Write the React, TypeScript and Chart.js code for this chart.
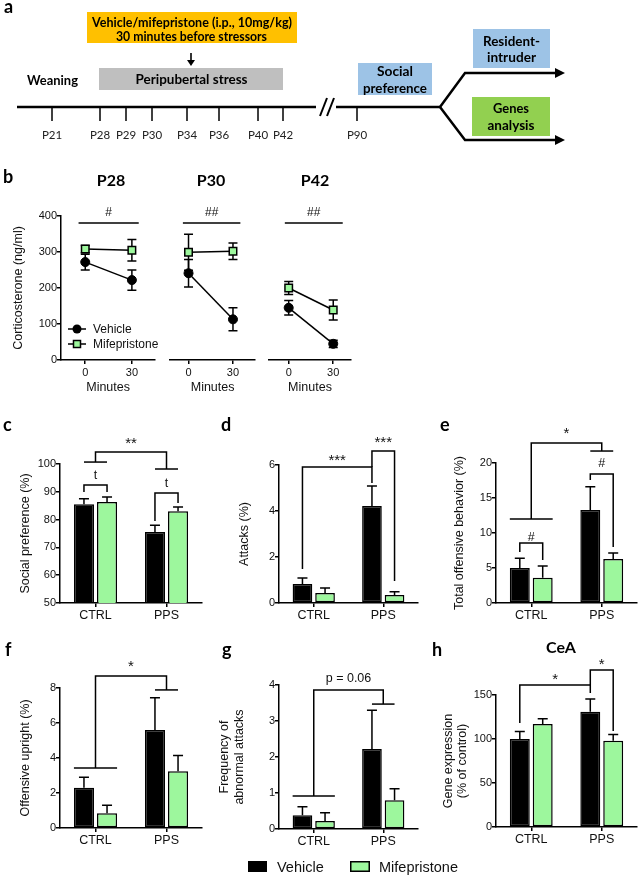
import React, { useEffect, useRef } from "react";
import { Chart, registerables } from "chart.js";

Chart.register(...registerables);

const SANS = "'Liberation Sans', Arial, sans-serif";
const HEAD = "Lato, 'Open Sans', sans-serif";
const INK = "#111";
const GREEN = "#9df79d";

// ---------------- data ----------------
const GROUPS = ["CTRL", "PPS"];
const SERIES = ["Vehicle", "Mifepristone"];
const MINUTES = [0, 30];
const AGES = ["P28", "P30", "P42"];
const AGE_SIG = ["#", "##", "##"];

const CORT_VEH = [[272, 222], [241, 113], [145, 45]];
const CORT_VEH_SEM = [[22, 28], [38, 32], [20, 10]];
const CORT_MIF = [[308, 305], [299, 302], [200, 139]];
const CORT_MIF_SEM = [[10, 30], [50, 23], [18, 28]];

const SOC_VEH = [85.5, 75.5];
const SOC_VEH_SEM = [2.0, 2.5];
const SOC_MIF = [86.3, 83.0];
const SOC_MIF_SEM = [1.8, 1.5];

const ATT_VEH = [0.83, 4.22];
const ATT_VEH_SEM = [0.26, 0.87];
const ATT_MIF = [0.43, 0.35];
const ATT_MIF_SEM = [0.22, 0.14];

const TOB_VEH = [5.0, 13.3];
const TOB_VEH_SEM = [1.4, 3.3];
const TOB_MIF = [3.6, 6.3];
const TOB_MIF_SEM = [1.7, 0.85];

const UPR_VEH = [2.3, 5.6];
const UPR_VEH_SEM = [0.6, 1.85];
const UPR_MIF = [0.85, 3.25];
const UPR_MIF_SEM = [0.45, 0.9];

const ABN_VEH = [0.38, 2.22];
const ABN_VEH_SEM = [0.24, 1.08];
const ABN_MIF = [0.22, 0.8];
const ABN_MIF_SEM = [0.23, 0.32];

const GEN_VEH = [100, 131];
const GEN_VEH_SEM = [8.5, 14.5];
const GEN_MIF = [117, 98];
const GEN_MIF_SEM = [6, 7];

const TIMELINE_LABELS = ["P21", "P28", "P29", "P30", "P34", "P36", "P40", "P42"];
const TIMELINE_X = [52, 100, 126, 152, 187, 219, 258, 283];

// ---------------- helpers ----------------
const axisStyle = () => ({
  grid: { display: true, drawOnChartArea: false, drawTicks: true, tickLength: 4, color: "#000", lineWidth: 1.5 },
  border: { display: true, color: "#000", width: 1.5 },
});

function drawLabel(ctx: any, text: string, x: number, centerY: number) {
  const star = text.includes("*");
  const size = star ? 15 : 12.5;
  ctx.font = `${size}px ${SANS}`;
  ctx.textAlign = "center";
  ctx.textBaseline = "alphabetic";
  ctx.fillStyle = INK;
  ctx.fillText(text, x, centerY + (star ? 0.57 : 0.36) * size);
}

function anchorX(chart: any, an: any) {
  const e0 = chart.getDatasetMeta(0).data[an.cat];
  const e1 = chart.getDatasetMeta(1).data[an.cat];
  if (an.ds === 0) return e0.x;
  if (an.ds === 1) return e1.x;
  return (e0.x + e1.x) / 2;
}

const bracketPlugin = (anns: any[]) => ({
  id: "brackets",
  afterDraw(chart: any) {
    const { ctx } = chart;
    const ys = chart.scales.y;
    ctx.save();
    ctx.strokeStyle = "#000";
    ctx.lineWidth = 1.5;
    ctx.lineJoin = "miter";
    for (const an of anns) {
      if (an.kind === "link") {
        const xa = anchorX(chart, an.a);
        const xb = anchorX(chart, an.b);
        const yt = ys.getPixelForValue(an.top);
        ctx.beginPath();
        ctx.moveTo(xa, ys.getPixelForValue(an.aEnd));
        ctx.lineTo(xa, yt);
        ctx.lineTo(xb, yt);
        ctx.lineTo(xb, ys.getPixelForValue(an.bEnd));
        ctx.stroke();
        drawLabel(ctx, an.label, (xa + xb) / 2, yt - an.gap);
      } else {
        const e0 = chart.getDatasetMeta(0).data[an.cat];
        const e1 = chart.getDatasetMeta(1).data[an.cat];
        const x0 = an.span === "edges" ? e0.x - e0.width / 2 : e0.x;
        const x1 = an.span === "edges" ? e1.x + e1.width / 2 : e1.x;
        const y = ys.getPixelForValue(an.y);
        ctx.beginPath();
        ctx.moveTo(x0, y);
        ctx.lineTo(x1, y);
        ctx.stroke();
      }
    }
    ctx.restore();
  },
});

const barErrorPlugin = (errs: number[][], cap = 5) => ({
  id: "barErr",
  afterDatasetsDraw(chart: any) {
    const { ctx } = chart;
    const ys = chart.scales.y;
    ctx.save();
    ctx.strokeStyle = "#000";
    ctx.lineWidth = 1.5;
    errs.forEach((arr, di) => {
      chart.getDatasetMeta(di).data.forEach((el: any, i: number) => {
        const v = chart.data.datasets[di].data[i];
        const yb = ys.getPixelForValue(v);
        const yt = ys.getPixelForValue(v + arr[i]);
        ctx.beginPath();
        ctx.moveTo(el.x, yb);
        ctx.lineTo(el.x, yt);
        ctx.moveTo(el.x - cap, yt);
        ctx.lineTo(el.x + cap, yt);
        ctx.stroke();
      });
    });
    ctx.restore();
  },
});

function barConfig(s: any) {
  const lh = 12.5 * s.titleLH;
  const ax = axisStyle();
  return {
    type: "bar",
    data: {
      labels: GROUPS,
      datasets: [
        { label: SERIES[0], data: s.veh, backgroundColor: "#000", borderColor: "#000", borderWidth: 1.5, borderSkipped: false, categoryPercentage: 0.65, barPercentage: 0.87 },
        { label: SERIES[1], data: s.mif, backgroundColor: GREEN, borderColor: "#000", borderWidth: 1.5, borderSkipped: false, categoryPercentage: 0.65, barPercentage: 0.87 },
      ],
    },
    options: {
      responsive: false,
      animation: false,
      devicePixelRatio: 1,
      events: [],
      layout: { padding: { left: 0, top: s.plot.t - s.box.y, right: s.box.x + s.box.w - s.plot.r, bottom: 0 } },
      plugins: { legend: { display: false }, tooltip: { enabled: false } },
      scales: {
        x: {
          offset: true,
          ...ax,
          grid: { ...ax.grid, offset: false },
          ticks: { font: { family: SANS, size: 12.5 }, color: INK, padding: 1, maxRotation: 0 },
          afterFit: (sc: any) => { sc.height = s.box.y + s.box.h - s.plot.b; },
        },
        y: {
          min: s.min,
          max: s.max,
          ...ax,
          ticks: { stepSize: s.step, font: { family: SANS, size: 11 }, color: INK, padding: 0 },
          title: {
            display: true,
            text: s.title,
            font: { family: SANS, size: 12.5, lineHeight: s.titleLH },
            color: INK,
            padding: { top: s.titleCenter - s.box.x - lh / 2, bottom: 0 },
          },
          afterFit: (sc: any) => { sc.width = s.plot.l - s.box.x; },
        },
      },
    },
    plugins: [barErrorPlugin([s.vehErr, s.mifErr]), bracketPlugin(s.anns)],
  };
}

const cortErrorPlugin = (errs: number[][], cap = 4.5) => ({
  id: "cortErr",
  beforeDatasetsDraw(chart: any) {
    const { ctx } = chart;
    const ys = chart.scales.y;
    ctx.save();
    ctx.strokeStyle = "#000";
    ctx.lineWidth = 1.5;
    errs.forEach((arr, di) => {
      chart.getDatasetMeta(di).data.forEach((el: any, i: number) => {
        const v = chart.data.datasets[di].data[i].y;
        const y1 = ys.getPixelForValue(v + arr[i]);
        const y0 = ys.getPixelForValue(v - arr[i]);
        ctx.beginPath();
        ctx.moveTo(el.x, y0);
        ctx.lineTo(el.x, y1);
        ctx.moveTo(el.x - cap, y1);
        ctx.lineTo(el.x + cap, y1);
        ctx.moveTo(el.x - cap, y0);
        ctx.lineTo(el.x + cap, y0);
        ctx.stroke();
      });
    });
    ctx.restore();
  },
});

const cortSigPlugin = (from: number, to: number, level: number, label: string) => ({
  id: "cortSig",
  afterDraw(chart: any) {
    const { ctx } = chart;
    const xs = chart.scales.x;
    const ys = chart.scales.y;
    const y = ys.getPixelForValue(level);
    const x0 = xs.getPixelForValue(from);
    const x1 = xs.getPixelForValue(to);
    ctx.save();
    ctx.strokeStyle = "#000";
    ctx.lineWidth = 1.5;
    ctx.beginPath();
    ctx.moveTo(x0, y);
    ctx.lineTo(x1, y);
    ctx.stroke();
    ctx.font = `12px ${SANS}`;
    ctx.textAlign = "center";
    ctx.textBaseline = "alphabetic";
    ctx.fillStyle = INK;
    ctx.fillText(label, (x0 + x1) / 2, y - 11 + 4.3);
    ctx.restore();
  },
});

const cortLegendPlugin = {
  id: "cortLegend",
  afterDraw(chart: any) {
    const { ctx, chartArea: ca } = chart;
    const rows = [ca.bottom - 31, ca.bottom - 16];
    ctx.save();
    rows.forEach((y, i) => {
      ctx.strokeStyle = "#000";
      ctx.lineWidth = 1.5;
      ctx.beginPath();
      ctx.moveTo(ca.left + 7, y);
      ctx.lineTo(ca.left + 25, y);
      ctx.stroke();
      if (i === 0) {
        ctx.fillStyle = "#000";
        ctx.beginPath();
        ctx.arc(ca.left + 16, y, 4.5, 0, Math.PI * 2);
        ctx.fill();
      } else {
        ctx.fillStyle = GREEN;
        ctx.fillRect(ca.left + 12.5, y - 3.5, 7, 7);
        ctx.strokeRect(ca.left + 12.5, y - 3.5, 7, 7);
      }
      ctx.fillStyle = INK;
      ctx.font = `12px ${SANS}`;
      ctx.textAlign = "left";
      ctx.textBaseline = "middle";
      ctx.fillText(SERIES[i], ca.left + 32, y + 0.5);
    });
    ctx.restore();
  },
};

function cortConfig(i: number, s: any) {
  const ax = axisStyle();
  const plugins: any[] = [cortErrorPlugin([CORT_VEH_SEM[i], CORT_MIF_SEM[i]]), cortSigPlugin(s.sig[0], s.sig[1], 380.5, AGE_SIG[i])];
  if (s.legend) plugins.push(cortLegendPlugin);
  return {
    type: "line",
    data: {
      datasets: [
        {
          label: SERIES[0],
          data: MINUTES.map((m, k) => ({ x: m, y: CORT_VEH[i][k] })),
          borderColor: "#000",
          borderWidth: 1.5,
          pointStyle: "circle",
          pointRadius: 4.5,
          pointBackgroundColor: "#000",
          pointBorderColor: "#000",
          pointBorderWidth: 1,
          fill: false,
        },
        {
          label: SERIES[1],
          data: MINUTES.map((m, k) => ({ x: m, y: CORT_MIF[i][k] })),
          borderColor: "#000",
          borderWidth: 1.5,
          pointStyle: "rect",
          pointRadius: 5.3,
          pointBackgroundColor: GREEN,
          pointBorderColor: "#000",
          pointBorderWidth: 1.5,
          fill: false,
        },
      ],
    },
    options: {
      responsive: false,
      animation: false,
      devicePixelRatio: 1,
      events: [],
      layout: {
        padding: {
          left: s.showY ? 0 : s.plot.l - s.box.x,
          top: s.plot.t - s.box.y,
          right: s.box.x + s.box.w - s.plot.r,
          bottom: 0,
        },
      },
      plugins: { legend: { display: false }, tooltip: { enabled: false } },
      scales: {
        x: {
          type: "linear",
          min: s.xMin,
          max: s.xMax,
          ...ax,
          ticks: { font: { family: SANS, size: 11 }, color: INK, padding: 2 },
          afterBuildTicks: (sc: any) => { sc.ticks = MINUTES.map((v) => ({ value: v })); },
          title: { display: true, text: "Minutes", font: { family: SANS, size: 12.5, lineHeight: 1.2 }, color: INK, padding: { top: 0, bottom: s.box.y + s.box.h - 388 - 7.5 } },
          afterFit: (sc: any) => { sc.height = s.box.y + s.box.h - s.plot.b; },
        },
        y: {
          display: s.showY,
          min: 0,
          max: 400,
          ...ax,
          ticks: { stepSize: 100, font: { family: SANS, size: 11 }, color: INK, padding: 0 },
          title: { display: true, text: "Corticosterone (ng/ml)", font: { family: SANS, size: 12.5, lineHeight: 1.2 }, color: INK, padding: { top: 19 - s.box.x - 7.5, bottom: 0 } },
          afterFit: (sc: any) => { sc.width = s.plot.l - s.box.x; },
        },
      },
    },
    plugins,
  };
}

function ChartBox({ box, make }: { box: any; make: () => any }) {
  const ref = useRef<HTMLCanvasElement>(null);
  useEffect(() => {
    const chart = new Chart(ref.current as HTMLCanvasElement, make() as any);
    return () => chart.destroy();
  }, []);
  return (
    <canvas
      ref={ref}
      width={box.w}
      height={box.h}
      style={{ position: "absolute", left: box.x, top: box.y, width: box.w, height: box.h }}
    />
  );
}

// ---------------- chart specs ----------------
const CORT_SPECS = [
  { box: { x: 10, y: 198, w: 152, h: 200 }, plot: { l: 61, t: 216, r: 158, b: 360 }, xMin: -15.6, xMax: 45, showY: true, legend: true, sig: [-4.3, 34.4] },
  { box: { x: 160, y: 198, w: 102, h: 200 }, plot: { l: 165, t: 216, r: 257, b: 360 }, xMin: -12.5, xMax: 45, showY: false, legend: false, sig: [-3.8, 35] },
  { box: { x: 262, y: 198, w: 96, h: 200 }, plot: { l: 265, t: 216, r: 352, b: 360 }, xMin: -13.4, xMax: 42.1, showY: false, legend: false, sig: [-2.6, 36.4] },
];

const BAR_SPECS = [
  {
    box: { x: 18, y: 425, w: 188, h: 200 }, plot: { l: 60, t: 464, r: 202, b: 603 },
    min: 50, max: 100, step: 10, title: "Social preference (%)", titleCenter: 26, titleLH: 1.2,
    veh: SOC_VEH, vehErr: SOC_VEH_SEM, mif: SOC_MIF, mifErr: SOC_MIF_SEM,
    anns: [
      { kind: "link", a: { cat: 0, ds: 0 }, b: { cat: 0, ds: 1 }, top: 92.45, aEnd: 89.9, bEnd: 89.9, label: "t", gap: 10 },
      { kind: "link", a: { cat: 1, ds: 0 }, b: { cat: 1, ds: 1 }, top: 89.6, aEnd: 79.5, bEnd: 86.0, label: "t", gap: 10 },
      { kind: "link", a: { cat: 0 }, b: { cat: 1 }, top: 104.3, aEnd: 100.7, bEnd: 98.2, label: "**", gap: 13 },
      { kind: "group", cat: 0, y: 100.7, span: "centers" },
      { kind: "group", cat: 1, y: 98.2, span: "centers" },
    ],
  },
  {
    box: { x: 237, y: 425, w: 186, h: 200 }, plot: { l: 279, t: 465, r: 418, b: 603 },
    min: 0, max: 6, step: 2, title: "Attacks (%)", titleCenter: 245, titleLH: 1.2,
    veh: ATT_VEH, vehErr: ATT_VEH_SEM, mif: ATT_MIF, mifErr: ATT_MIF_SEM,
    anns: [
      { kind: "link", a: { cat: 0, ds: 0 }, b: { cat: 1, ds: 0 }, top: 5.91, aEnd: 1.48, bEnd: 5.22, label: "***", gap: 11 },
      { kind: "link", a: { cat: 1, ds: 0 }, b: { cat: 1, ds: 1 }, top: 6.61, aEnd: 5.91, bEnd: 0.96, label: "***", gap: 13 },
    ],
  },
  {
    box: { x: 452, y: 418, w: 188, h: 207 }, plot: { l: 496, t: 463, r: 637, b: 603 },
    min: 0, max: 20, step: 5, title: "Total offensive behavior (%)", titleCenter: 460, titleLH: 1.2,
    veh: TOB_VEH, vehErr: TOB_VEH_SEM, mif: TOB_MIF, mifErr: TOB_MIF_SEM,
    anns: [
      { kind: "link", a: { cat: 0, ds: 0 }, b: { cat: 0, ds: 1 }, top: 8.57, aEnd: 7.29, bEnd: 6.14, label: "#", gap: 7 },
      { kind: "link", a: { cat: 1, ds: 0 }, b: { cat: 1, ds: 1 }, top: 18.43, aEnd: 17.57, bEnd: 8.0, label: "#", gap: 11 },
      { kind: "link", a: { cat: 0 }, b: { cat: 1 }, top: 22.86, aEnd: 12.0, bEnd: 21.71, label: "*", gap: 14 },
      { kind: "group", cat: 0, y: 12.0, span: "edges" },
      { kind: "group", cat: 1, y: 21.71, span: "centers" },
    ],
  },
  {
    box: { x: 18, y: 650, w: 188, h: 200 }, plot: { l: 60, t: 688, r: 202, b: 828 },
    min: 0, max: 8, step: 2, title: "Offensive upright (%)", titleCenter: 26, titleLH: 1.2,
    veh: UPR_VEH, vehErr: UPR_VEH_SEM, mif: UPR_MIF, mifErr: UPR_MIF_SEM,
    anns: [
      { kind: "link", a: { cat: 0 }, b: { cat: 1 }, top: 8.69, aEnd: 3.43, bEnd: 7.89, label: "*", gap: 13 },
      { kind: "group", cat: 0, y: 3.43, span: "edges" },
      { kind: "group", cat: 1, y: 7.89, span: "centers" },
    ],
  },
  {
    box: { x: 217, y: 650, w: 206, h: 200 }, plot: { l: 279, t: 685, r: 418, b: 829 },
    min: 0, max: 4, step: 1, title: ["Frequency of", "abnormal attacks"], titleCenter: 225, titleLH: 1.2,
    veh: ABN_VEH, vehErr: ABN_VEH_SEM, mif: ABN_MIF, mifErr: ABN_MIF_SEM,
    anns: [
      { kind: "link", a: { cat: 0 }, b: { cat: 1 }, top: 3.86, aEnd: 0.92, bEnd: 3.47, label: "p = 0.06", gap: 13 },
      { kind: "group", cat: 0, y: 0.92, span: "edges" },
      { kind: "group", cat: 1, y: 3.47, span: "centers" },
    ],
  },
  {
    box: { x: 441, y: 648, w: 199, h: 202 }, plot: { l: 496, t: 695, r: 637, b: 827 },
    min: 0, max: 150, step: 50, title: ["Gene expression", "(% of control)"], titleCenter: 449, titleLH: 1.12,
    veh: GEN_VEH, vehErr: GEN_VEH_SEM, mif: GEN_MIF, mifErr: GEN_MIF_SEM,
    anns: [
      { kind: "link", a: { cat: 0, ds: 0 }, b: { cat: 1, ds: 0 }, top: 161.4, aEnd: 118.2, bEnd: 152.3, label: "*", gap: 10 },
      { kind: "link", a: { cat: 1, ds: 0 }, b: { cat: 1, ds: 1 }, top: 178.4, aEnd: 161.4, bEnd: 109, label: "*", gap: 10 },
    ],
  },
];

// ---------------- overlay (diagram, letters, titles, legend) ----------------
function Overlay() {
  const bold = { fontFamily: HEAD, fontWeight: 700 } as any;
  return (
    <svg width={640} height={876} style={{ position: "absolute", left: 0, top: 0, pointerEvents: "none" }}>
      {/* panel letters */}
      <text x={4} y={13} fontSize={18} {...bold}>a</text>
      <text x={3} y={183} fontSize={18} {...bold}>b</text>
      <text x={3} y={431} fontSize={18} {...bold}>c</text>
      <text x={221} y={431} fontSize={18} {...bold}>d</text>
      <text x={440} y={431} fontSize={18} {...bold}>e</text>
      <text x={5} y={656} fontSize={18} {...bold}>f</text>
      <text x={222} y={656} fontSize={18} {...bold}>g</text>
      <text x={432} y={656} fontSize={18} {...bold}>h</text>

      {/* panel a */}
      <rect x={87} y={12} width={210} height={31} fill="#FFC000" />
      <text x={192} y={26.5} fontSize={12.5} textAnchor="middle" textLength={200} lengthAdjust="spacingAndGlyphs" {...bold}>Vehicle/mifepristone (i.p., 10mg/kg)</text>
      <text x={191.5} y={40.5} fontSize={12.5} textAnchor="middle" textLength={151} lengthAdjust="spacingAndGlyphs" {...bold}>30 minutes before stressors</text>
      <line x1={191} y1={53} x2={191} y2={61} stroke="#000" strokeWidth={1.6} />
      <polygon points="187,60 195,60 191,66" fill="#000" />
      <rect x={99} y={68} width={184} height={22} fill="#BFBFBF" />
      <text x={191.5} y={83.5} fontSize={13} textAnchor="middle" textLength={112} lengthAdjust="spacingAndGlyphs" {...bold}>Peripubertal stress</text>
      <text x={27} y={84.5} fontSize={13} textLength={51} lengthAdjust="spacingAndGlyphs" {...bold}>Weaning</text>
      <line x1={17} y1={107} x2={316} y2={107} stroke="#000" strokeWidth={2.5} />
      {TIMELINE_X.map((x, i) => (
        <g key={i}>
          <line x1={x} y1={107} x2={x} y2={121} stroke="#000" strokeWidth={1.5} />
          <text x={x} y={139} fontSize={11.5} textAnchor="middle" fontFamily={HEAD} fill="#222">{TIMELINE_LABELS[i]}</text>
        </g>
      ))}
      <line x1={320} y1={116} x2={327} y2={98} stroke="#000" strokeWidth={2} />
      <line x1={327} y1={116} x2={334} y2={98} stroke="#000" strokeWidth={2} />
      <line x1={336} y1={107} x2={440} y2={107} stroke="#000" strokeWidth={2.5} />
      <line x1={357} y1={107} x2={357} y2={121} stroke="#000" strokeWidth={1.5} />
      <text x={357} y={139} fontSize={11.5} textAnchor="middle" fontFamily={HEAD} fill="#222">P90</text>
      <polyline points="440,107 465,73 557,73" fill="none" stroke="#000" strokeWidth={2.5} />
      <polyline points="440,107 465,140 557,140" fill="none" stroke="#000" strokeWidth={2.5} />
      <polygon points="555,68 565,73 555,78" fill="#000" />
      <polygon points="555,135 565,140 555,145" fill="#000" />
      <rect x={358} y={63} width={74} height={32} fill="#9DC3E6" />
      <text x={395} y={76} fontSize={13} textAnchor="middle" textLength={36} lengthAdjust="spacingAndGlyphs" {...bold}>Social</text>
      <text x={395} y={92.5} fontSize={13} textAnchor="middle" textLength={64} lengthAdjust="spacingAndGlyphs" {...bold}>preference</text>
      <rect x={473} y={29} width={77} height={39} fill="#9DC3E6" />
      <text x={511.5} y={45.5} fontSize={13} textAnchor="middle" textLength={57} lengthAdjust="spacingAndGlyphs" {...bold}>Resident-</text>
      <text x={511.5} y={61.5} fontSize={13} textAnchor="middle" textLength={49} lengthAdjust="spacingAndGlyphs" {...bold}>intruder</text>
      <rect x={472} y={97} width={78} height={39} fill="#92D050" />
      <text x={511} y={112.5} fontSize={13} textAnchor="middle" textLength={36} lengthAdjust="spacingAndGlyphs" {...bold}>Genes</text>
      <text x={511} y={130} fontSize={13} textAnchor="middle" textLength={47} lengthAdjust="spacingAndGlyphs" {...bold}>analysis</text>

      {/* panel b titles */}
      <text x={111} y={186} fontSize={16} textAnchor="middle" {...bold}>{AGES[0]}</text>
      <text x={211} y={186} fontSize={16} textAnchor="middle" {...bold}>{AGES[1]}</text>
      <text x={315} y={186} fontSize={16} textAnchor="middle" {...bold}>{AGES[2]}</text>

      {/* panel h title */}
      <text x={561} y={653} fontSize={16} textAnchor="middle" {...bold}>CeA</text>

      {/* bottom legend */}
      <rect x={248} y={861} width={19} height={11} fill="#000" />
      <text x={277} y={872} fontSize={14.5} fontFamily={SANS} fill={INK}>{SERIES[0]}</text>
      <rect x={350.75} y={861.75} width={18.5} height={9.5} fill={GREEN} stroke="#000" strokeWidth={1.5} />
      <text x={379} y={872} fontSize={14.5} fontFamily={SANS} fill={INK}>{SERIES[1]}</text>
    </svg>
  );
}

export default function App() {
  return (
    <div style={{ position: "absolute", left: 0, top: 0, width: 640, height: 876, background: "#fff", overflow: "hidden" }}>
      {CORT_SPECS.map((s, i) => (
        <ChartBox key={"b" + i} box={s.box} make={() => cortConfig(i, s)} />
      ))}
      {BAR_SPECS.map((s, i) => (
        <ChartBox key={"bar" + i} box={s.box} make={() => barConfig(s)} />
      ))}
      <Overlay />
    </div>
  );
}
